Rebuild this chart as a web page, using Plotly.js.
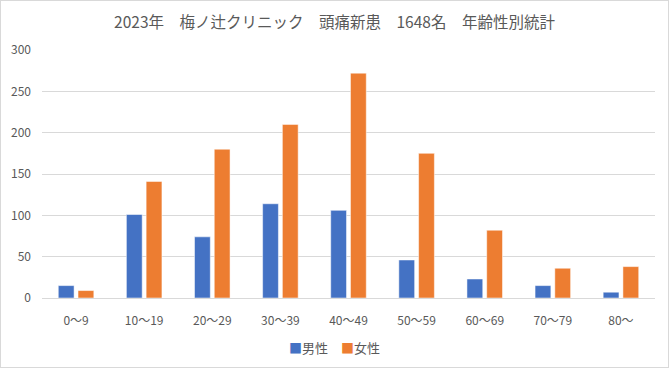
<!DOCTYPE html>
<html><head><meta charset="utf-8">
<script src="https://cdn.plot.ly/plotly-3.0.1.min.js"></script>
<style>
html,body{margin:0;padding:0;background:#fff;}
#wrap{position:relative;width:669px;height:368px;}
#frame{position:absolute;left:0;top:0;width:667px;height:366px;border:1px solid #d9d9d9;pointer-events:none;}
</style></head>
<body><div id="wrap"><div id="chart" style="width:669px;height:368px;"></div><div id="frame"></div></div>
<script>
const categories = ["0〜9","10〜19","20〜29","30〜39","40〜49","50〜59","60〜69","70〜79","80〜"];
const male = [15,101,74,114,106,46,23,15,7];
const female = [9,141,180,210,272,175,82,36,38];
const seriesNames = ["男性","女性"];
const seriesColors = ["#4472C4","#ED7D31"];
const titleText = "2023年　梅ノ辻クリニック　頭痛新患　1648名　年齢性別統計";

const font = "'Noto Sans CJK JP', 'Noto Sans', sans-serif";
const data = [
  {type:"bar", name:seriesNames[0], x:categories, y:male, marker:{color:seriesColors[0], line:{color:"rgba(255,255,255,0.5)", width:1}}},
  {type:"bar", name:seriesNames[1], x:categories, y:female, marker:{color:seriesColors[1], line:{color:"rgba(255,255,255,0.5)", width:1}}}
];
const legendText = seriesNames.map((n,i)=>"<span style='color:"+seriesColors[i]+"'>■</span>"+n).join("　");
const layout = {
  width:669, height:368,
  margin:{l:42, r:14, t:50, b:70},
  paper_bgcolor:"#fff", plot_bgcolor:"#fff",
  font:{family:font, color:"#595959", size:12},
  title:{text:titleText, font:{family:font, size:15.5, color:"#595959"}, x:0.5, xanchor:"center", y:0.94, yanchor:"middle"},
  barmode:"group", bargap:0.42, bargroupgap:0.2,
  xaxis:{type:"category", automargin:false, showgrid:false, showline:false, zeroline:false, ticks:"", ticklabelstandoff:14, tickfont:{size:12, color:"#595959"}},
  yaxis:{range:[0,300], automargin:false, dtick:50, tick0:0, showgrid:true, gridcolor:"#d9d9d9", gridwidth:1, zeroline:true, zerolinecolor:"#d9d9d9", showline:false, ticks:"", ticklabelstandoff:10, tickfont:{size:12, color:"#595959"}},
  showlegend:false,
  annotations:[{xref:"paper", yref:"paper", x:0.477, y:-0.2, xanchor:"center", yanchor:"middle", showarrow:false, text:legendText, font:{size:13, color:"#595959"}}]
};
Plotly.newPlot("chart", data, layout, {staticPlot:true, displayModeBar:false});
</script></body></html>
